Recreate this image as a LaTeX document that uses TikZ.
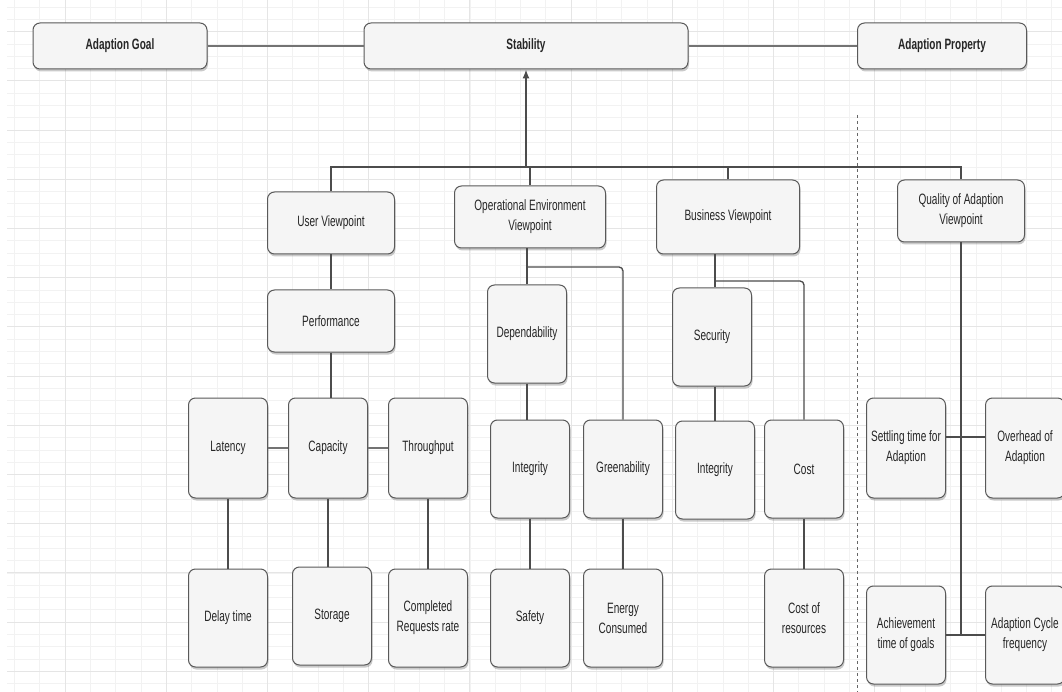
\documentclass[tikz,border=0pt]{standalone}
\usepackage{fontspec}
\setmainfont{Liberation Sans}[FakeStretch=0.67]
\usetikzlibrary{arrows.meta,shadows}

\begin{document}
\begin{tikzpicture}[x=1pt,y=-1pt,thick,
  font=\fontsize{15}{20}\selectfont,
  box node/.style={draw=black!65,fill=black!4,rounded corners=7pt,line width=1pt,
    align=center,inner sep=0pt,text=black!85,
    drop shadow={shadow xshift=1pt,shadow yshift=-2.5pt,opacity=0.35,fill=black!60}},
  top node/.style={box node,minimum height=46pt,font=\fontsize{15}{20}\selectfont\bfseries},
  view node/.style={box node,minimum width=127pt,minimum height=62pt},
  leaf node/.style={box node,minimum width=79pt,minimum height=98pt},
  link/.style={draw=black!70,line width=1.3pt},
  bar/.style={draw=black!55,line width=2.6pt},
  minor line/.style={draw=black!5,line width=0.6pt},
  major line/.style={draw=black!10,line width=0.8pt}]

  \useasboundingbox (0,0) rectangle (1062,692);

  % background grid
  \foreach \gx in {0,...,41}
    \draw[minor line] (14.4+25.3*\gx,0) -- (14.4+25.3*\gx,692);
  \foreach \gy in {0,...,56}
    \draw[minor line] (7,7+12.3*\gy) -- (1062,7+12.3*\gy);
  \foreach \gy in {0,...,13}
    \draw[major line] (7,31.6+49.2*\gy) -- (1062,31.6+49.2*\gy);
  \foreach \gx in {0,...,9}
    \draw[major line] (-36.2+101.2*\gx,0) -- (-36.2+101.2*\gx,692);

  % top row
  \node[top node,minimum width=174pt] (goal) at (120,46) {Adaption Goal};
  \node[top node,minimum width=324pt] (stab) at (526,46) {Stability};
  \node[top node,minimum width=169pt] (prop) at (942,46) {Adaption Property};

  % viewpoints
  \node[view node] (user) at (331,223) {User Viewpoint};
  \node[view node,minimum width=151pt] (oper) at (530,217) {Operational Environment\\Viewpoint};
  \node[view node,minimum width=143pt,minimum height=74pt] (busi) at (728,217) {Business Viewpoint};
  \node[view node] (qual) at (961,211) {Quality of Adaption\\Viewpoint};

  \node[view node] (perf) at (331,321) {Performance};
  \node[leaf node] (dep) at (527,334) {Dependability};
  \node[leaf node] (sec) at (712,337) {Security};

  % attributes
  \node[leaf node,minimum height=100pt] (lat) at (228,448) {Latency};
  \node[leaf node,minimum height=100pt] (cap) at (328,448) {Capacity};
  \node[leaf node,minimum height=100pt] (thr) at (428,448) {Throughput};
  \node[leaf node] (integ1) at (530,469) {Integrity};
  \node[leaf node] (green) at (623,469) {Greenability};
  \node[leaf node] (integ2) at (715,470) {Integrity};
  \node[leaf node] (cost) at (804,469) {Cost};
  \node[leaf node,minimum height=100pt] (settle) at (906,448) {Settling time for\\Adaption};
  \node[leaf node,minimum height=100pt] (over) at (1025,448) {Overhead of\\Adaption};

  % metrics
  \node[leaf node] (delay) at (228,618) {Delay time};
  \node[leaf node] (stor) at (332,616) {Storage};
  \node[leaf node] (creq) at (428,618) {Completed\\Requests rate};
  \node[leaf node] (safe) at (530,618) {Safety};
  \node[leaf node] (energy) at (623,618) {Energy\\Consumed};
  \node[leaf node] (cres) at (804,618) {Cost of\\resources};
  \node[leaf node] (achieve) at (906,635) {Achievement\\time of goals};
  \node[leaf node] (cycle) at (1025,635) {Adaption Cycle\\frequency};

  \coordinate (hub) at (526,167);
  \coordinate (ojoin) at (527,267);
  \coordinate (bjoin) at (715,281);
  \coordinate (qend) at (961,635);
  \coordinate (septop) at (857,115);
  \coordinate (sepbot) at (857,692);

  \draw[dashed,black!60,line width=0.8pt] (septop) -- (sepbot);

  \draw[bar] (goal) -- (stab);
  \draw[bar] (stab) -- (prop);
  \draw[link] (user.north) |- (hub) -| (qual.north);
  \draw[link] (oper.north) -- (oper.north |- hub);
  \draw[link] (busi.north) -- (busi.north |- hub);
  \draw[link,-{Latex[length=9pt,width=7pt]}] (hub) -- (stab.south);

  \draw[link] (user) -- (perf);
  \draw[link] (perf.south) -- (perf.south |- cap.north);
  \draw[bar] (lat) -- (cap) -- (thr);
  \draw[link] (lat) -- (delay);
  \draw[link] (cap.south) -- (cap.south |- stor.north);
  \draw[link] (thr) -- (creq);

  \draw[link] (dep.north) -- (dep.north |- oper.south);
  \draw[link,rounded corners=4pt] (ojoin) -| (green.north);
  \draw[link] (dep.south) -- (dep.south |- integ1.north);
  \draw[link] (integ1) -- (safe);
  \draw[link] (green) -- (energy);

  \draw[link] (bjoin |- sec.north) -- (bjoin |- busi.south);
  \draw[link,rounded corners=4pt] (bjoin) -| (cost.north);
  \draw[link] (integ2.north) -- (integ2.north |- sec.south);
  \draw[link] (cost) -- (cres);

  \draw[link] (qual.south) -- (qend);
  \draw[link] ([yshift=11pt]settle.east) -- ([yshift=11pt]over.west);
  \draw[link] (achieve) -- (cycle);

\end{tikzpicture}
\end{document}
